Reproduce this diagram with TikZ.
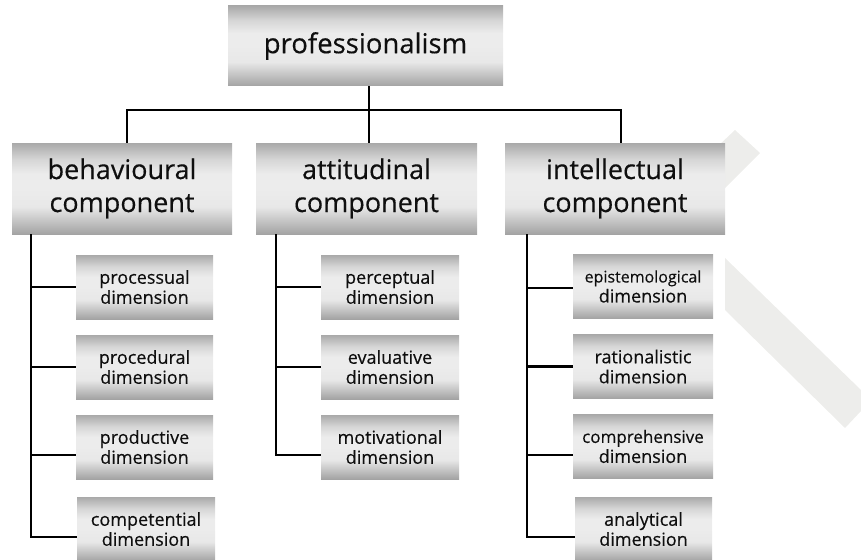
\documentclass[tikz,border=0pt]{standalone}
\usepackage{fontspec}
\setmainfont{Open Sans}[FakeBold=0.35]
\definecolor{wm}{RGB}{237,237,235}
\definecolor{sA}{RGB}{163,163,163}
\definecolor{sB}{RGB}{232,232,232}
\definecolor{sC}{RGB}{236,236,236}
\definecolor{sD}{RGB}{214,214,214}
\definecolor{sE}{RGB}{169,169,169}
\definecolor{txt}{RGB}{15,15,15}
\pgfdeclareverticalshading{boxshade}{100bp}{color(0bp)=(sA); color(25bp)=(sA); color(40bp)=(sB); color(50bp)=(sC); color(58bp)=(sC); color(66bp)=(sD); color(75bp)=(sE); color(100bp)=(sE)}
\begin{document}
\begin{tikzpicture}[x=1pt,y=-1pt,
  gbox/.style={shading=boxshade, inner sep=0pt, align=center, text=txt},
  bigbox/.style={gbox, minimum width=220pt, minimum height=91pt, font=\fontsize{27}{33}\selectfont},
  dimbox/.style={gbox, minimum width=138pt, minimum height=64pt, font=\fontsize{18}{20}\selectfont},
  link/.style={line width=2.8pt, black}]
\useasboundingbox (0,0) rectangle (861,559);
\clip (0,0) rectangle (861,559);
% light watermark bands
\fill[wm] (735,130) -- (760,153) -- (725,188) -- (700,163) -- cycle;
\fill[wm] (725,258) -- (861,390) -- (861,411) -- (845,428) -- (725,310) -- cycle;
% top
\node[gbox, minimum width=275pt, minimum height=80pt, font=\fontsize{27.5}{33}\selectfont] (prof) at (365.5,46) {professionalism};
% components
\node[bigbox] (beh) at (122,188.5) {behavioural\\component};
\node[bigbox, minimum width=221pt] (att) at (366.5,188.5) {attitudinal\\component};
\node[bigbox] (int) at (615,188.5) {intellectual\\component};
% behavioural dimensions
\node[dimbox, minimum width=137pt] (b1) at (144.5,287) {processual\\dimension};
\node[dimbox, minimum width=137pt] (b2) at (144.5,367) {procedural\\dimension};
\node[dimbox, minimum width=137pt] (b3) at (144.5,447) {productive\\dimension};
\node[dimbox, minimum width=138pt] (b4) at (146,529) {competential\\dimension};
% attitudinal dimensions
\node[dimbox] (a1) at (390,287) {perceptual\\dimension};
\node[dimbox] (a2) at (390,367) {evaluative\\dimension};
\node[dimbox] (a3) at (390,447) {motivational\\dimension};
% intellectual dimensions
\node[dimbox, minimum width=140pt] (i1) at (643,286.5) {{\fontsize{16}{20}\selectfont epistemological}\\dimension};
\node[dimbox, minimum width=140pt] (i2) at (643,366.5) {rationalistic\\dimension};
\node[dimbox, minimum width=140pt] (i3) at (643,446.5) {{\fontsize{17}{20}\selectfont comprehensive}\\dimension};
\node[dimbox, minimum width=137pt] (i4) at (643.5,529) {analytical\\dimension};
% top connectors
\coordinate (bus) at (369,110);
\draw[link] (prof.south -| bus) -- (att.north -| bus);
\draw[link] (beh.north -| 127,0) |- (bus) -| (int.north -| 621,0);
% behavioural trunk
\coordinate (bt) at (beh.south -| 31,0);
\draw[link] (bt) |- ([yshift=-8pt]b4.west);
\draw[link] (bt |- b1.west) -- (b1.west);
\draw[link] (bt |- b2.west) -- (b2.west);
\draw[link] ([yshift=-8pt]bt |- b3.west) -- ([yshift=-8pt]b3.west);
% attitudinal trunk
\coordinate (at) at (att.south -| 276,0);
\draw[link] (at) |- ([yshift=-8pt]a3.west);
\draw[link] (at |- a1.west) -- (a1.west);
\draw[link] (at |- a2.west) -- (a2.west);
% intellectual trunk
\coordinate (it) at (int.south -| 527,0);
\draw[link] (it) |- ([yshift=-8pt]i4.west);
\draw[link] ([yshift=-1.5pt]it |- i1.west) -- ([yshift=-1.5pt]i1.west);
\draw[link] (it |- i2.west) -- (i2.west);
\draw[link] ([yshift=-8.5pt]it |- i3.west) -- ([yshift=-8.5pt]i3.west);
\end{tikzpicture}
\end{document}
